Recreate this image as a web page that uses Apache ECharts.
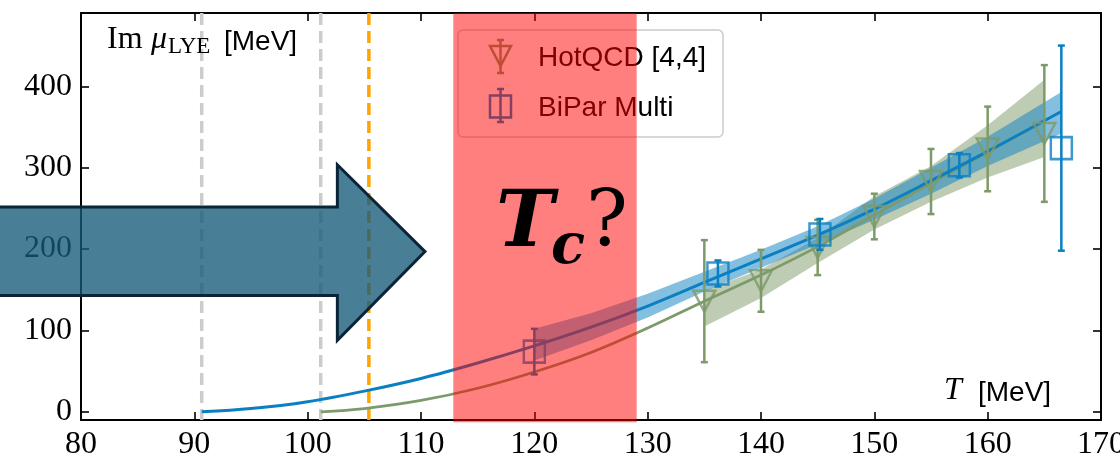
<!DOCTYPE html>
<html><head><meta charset="utf-8">
<script src="https://cdn.jsdelivr.net/npm/echarts@6/dist/echarts.min.js"></script>
<style>html,body{margin:0;padding:0;background:#fff}#c{width:1120px;height:460px}</style>
</head><body><div id="c"></div>
<script>
// ---------- data ----------
const xTickValues = [80, 90, 100, 110, 120, 130, 140, 150, 160, 170];
const yTickValues = [0, 100, 200, 300, 400];

// BiPar Multi fit curve (blue)
const blueCurveT = [90.65, 95, 100, 105, 110, 115, 120, 125, 130, 135, 140, 145, 150, 155, 160, 166.5];
const blueCurveV = [0, 4, 12.5, 25.5, 41, 60, 81, 104, 130, 159, 188, 217, 249, 284, 320, 369];
// BiPar Multi uncertainty band
const blueBandT  = [120, 125, 130, 135, 140, 145, 150, 155, 160, 166.5];
const blueBandLo = [63, 88, 116, 148, 177, 206, 236, 268, 302, 342];
const blueBandHi = [102, 121, 145, 172, 199, 228, 262, 300, 338, 393];

// HotQCD fit curve (green)
const greenCurveT = [101.15, 105, 110, 115, 120, 125, 130, 135, 140, 145, 150, 155, 160, 165];
const greenCurveV = [0, 4, 14, 29, 49, 73, 103, 136, 168, 203, 242, 281, 319, 358];
// HotQCD uncertainty band
const greenBandT  = [135, 140, 145, 150, 155, 160, 165];
const greenBandLo = [105, 140, 183, 224, 258, 288, 313];
const greenBandHi = [149, 175, 214, 265, 302, 352, 408];

// HotQCD [4,4] points
const hotT   = [135, 140, 145, 150, 155, 160, 165];
const hotV   = [136, 161, 202, 240, 283, 323, 342];
const hotErr = [75, 38, 34, 28, 40, 52, 84];

// BiPar Multi points
const biT   = [120, 136.2, 145.2, 157.5, 166.5];
const biV   = [74, 170, 218, 303, 324];
const biErr = [28, 16, 19, 15, 126];

// vertical markers
const grayLinesT = [90.65, 101.15];
const orangeLineT = [105.4];
// T_c window
const tcWindow = [112.85, 129.03];
// arrow outline (data coordinates)
const arrowX = [68, 102.62, 102.62, 110.35, 102.62, 102.62, 68];
const arrowY = [251.6, 251.6, 303.6, 196.9, 88, 142.8, 142.8];

// ---------- style ----------
const BLUE = '#0a7fc2';
const GREEN = '#7d9a6a';
const SERIF = '"Liberation Serif", "DejaVu Serif", serif';
const SANS = '"Liberation Sans", Arial, sans-serif';

const chart = echarts.init(document.getElementById('c'), null, {renderer: 'canvas'});

function bandRenderer(T, lo, hi, fill) {
  return function (params, api) {
    if (params.dataIndex !== 0) return null;
    const pts = [];
    for (let i = 0; i < T.length; i++) pts.push(api.coord([T[i], hi[i]]));
    for (let i = T.length - 1; i >= 0; i--) pts.push(api.coord([T[i], lo[i]]));
    return {type: 'polygon', shape: {points: pts}, style: {fill: fill}};
  };
}
function errRenderer(color) {
  return function (params, api) {
    const x = api.value(0), v = api.value(1), e = api.value(2);
    const a = api.coord([x, v - e]), b = api.coord([x, v + e]);
    const w = 3.5;
    const st = {stroke: color, lineWidth: 2.5};
    return {type: 'group', children: [
      {type: 'line', shape: {x1: a[0], y1: a[1], x2: b[0], y2: b[1]}, style: st},
      {type: 'line', shape: {x1: a[0] - w, y1: a[1], x2: a[0] + w, y2: a[1]}, style: st},
      {type: 'line', shape: {x1: b[0] - w, y1: b[1], x2: b[0] + w, y2: b[1]}, style: st}
    ]};
  };
}

const axisCommon = {
  type: 'value',
  axisLine: {show: true, onZero: false, lineStyle: {color: '#000', width: 2}},
  axisTick: {show: true, inside: true, length: 8, lineStyle: {color: '#000', width: 1.6}},
  splitLine: {show: false}
};

const option = {
  animation: false,
  backgroundColor: '#fff',
  grid: {left: 81, right: 19, top: 13, bottom: 40, containLabel: false, outerBoundsMode: 'none'},
  xAxis: [
    Object.assign({}, axisCommon, {position: 'bottom', min: 80, max: 170, interval: 10,
      axisLabel: {show: true, margin: 9, color: '#000', fontFamily: SERIF, fontSize: 32,
        formatter: v => xTickValues.includes(v) ? String(v) : ''}}),
    Object.assign({}, axisCommon, {position: 'top', min: 80, max: 170, interval: 10,
      axisLabel: {show: false}})
  ],
  yAxis: [
    Object.assign({}, axisCommon, {position: 'left', min: -10, max: 490, splitNumber: 5,
      axisLabel: {show: true, margin: 9, color: '#000', fontFamily: SERIF, fontSize: 32,
        formatter: v => yTickValues.includes(v) ? String(v) : ''}}),
    Object.assign({}, axisCommon, {position: 'right', min: -10, max: 490, splitNumber: 5,
      axisLabel: {show: false}})
  ],
  series: [
    {type: 'custom', name: 'greenBand', renderItem: bandRenderer(greenBandT, greenBandLo, greenBandHi, 'rgba(125,154,106,0.5)'),
      data: greenBandT.map((t, i) => [t, greenBandLo[i], greenBandHi[i]]), encode: {x: 0, y: [1, 2]}, z: 2, silent: true},
    {type: 'custom', name: 'blueBand', renderItem: bandRenderer(blueBandT, blueBandLo, blueBandHi, 'rgba(10,127,194,0.5)'),
      data: blueBandT.map((t, i) => [t, blueBandLo[i], blueBandHi[i]]), encode: {x: 0, y: [1, 2]}, z: 2, silent: true},
    {type: 'line', name: 'greenCurve', data: greenCurveT.map((t, i) => [t, greenCurveV[i]]),
      smooth: 0.35, showSymbol: false, symbol: 'none', lineStyle: {color: GREEN, width: 2.8}, z: 3},
    {type: 'line', name: 'blueCurve', data: blueCurveT.map((t, i) => [t, blueCurveV[i]]),
      smooth: 0.35, showSymbol: false, symbol: 'none', lineStyle: {color: BLUE, width: 3}, z: 3},
    {type: 'custom', name: 'hotErr', renderItem: errRenderer(GREEN),
      data: hotT.map((t, i) => [t, hotV[i], hotErr[i]]), encode: {x: 0, y: 1}, z: 4},
    {type: 'scatter', name: 'HotQCD [4,4]', data: hotT.map((t, i) => [t, hotV[i]]),
      symbol: 'path://M0,0L20,0L10,19Z', symbolSize: [22, 21],
      itemStyle: {color: 'rgba(0,0,0,0)', borderColor: GREEN, borderWidth: 2.5}, z: 4},
    {type: 'custom', name: 'biErr', renderItem: errRenderer(BLUE),
      data: biT.map((t, i) => [t, biV[i], biErr[i]]), encode: {x: 0, y: 1}, z: 5},
    {type: 'scatter', name: 'BiPar Multi', data: biT.map((t, i) => [t, biV[i]]),
      symbol: 'rect', symbolSize: [21, 22],
      itemStyle: {color: 'rgba(0,0,0,0)', borderColor: BLUE, borderWidth: 2.5}, z: 5}
  ]
};
chart.setOption(option);

function px(x, y) { return chart.convertToPixel({xAxisIndex: 0, yAxisIndex: 0}, [x, y]); }

const g = [];
const yTop = px(80, 490)[1], yBot = px(80, -10)[1];
grayLinesT.forEach(t => {
  const x = px(t, 0)[0];
  g.push({type: 'line', z: 1, shape: {x1: x, y1: yTop, x2: x, y2: yBot},
    style: {stroke: '#cccccc', lineWidth: 3.5, lineDash: [12, 6]}});
});
orangeLineT.forEach(t => {
  const x = px(t, 0)[0];
  g.push({type: 'line', z: 1, shape: {x1: x, y1: yTop, x2: x, y2: yBot},
    style: {stroke: '#ffa500', lineWidth: 3.5, lineDash: [12, 6]}});
});

// legend (drawn beneath the T_c window)
const L = {x: 458, y: 30, w: 265, h: 107};
g.push({type: 'rect', z: 8, shape: {x: L.x, y: L.y, width: L.w, height: L.h, r: 5},
  style: {fill: 'rgba(255,255,255,0.8)', stroke: '#cccccc', lineWidth: 1.5}});
const mx = 500.5;
const lst = (c) => ({stroke: c, lineWidth: 2.5, fill: null});
g.push({type: 'line', z: 9, shape: {x1: mx, y1: 40, x2: mx, y2: 73}, style: lst(GREEN)});
g.push({type: 'line', z: 9, shape: {x1: mx - 3.5, y1: 40, x2: mx + 3.5, y2: 40}, style: lst(GREEN)});
g.push({type: 'line', z: 9, shape: {x1: mx - 3.5, y1: 73, x2: mx + 3.5, y2: 73}, style: lst(GREEN)});
g.push({type: 'polygon', z: 9, shape: {points: [[mx - 10.5, 46], [mx + 10.5, 46], [mx, 66]]}, style: {stroke: GREEN, lineWidth: 2.5, fill: 'none'}});
g.push({type: 'line', z: 9, shape: {x1: mx, y1: 89, x2: mx, y2: 122}, style: lst(BLUE)});
g.push({type: 'line', z: 9, shape: {x1: mx - 3.5, y1: 89, x2: mx + 3.5, y2: 89}, style: lst(BLUE)});
g.push({type: 'line', z: 9, shape: {x1: mx - 3.5, y1: 122, x2: mx + 3.5, y2: 122}, style: lst(BLUE)});
g.push({type: 'rect', z: 9, shape: {x: mx - 10.5, y: 95.5, width: 21, height: 22}, style: {stroke: BLUE, lineWidth: 2.5, fill: 'none'}});
g.push({type: 'text', z: 9, style: {text: 'HotQCD [4,4]', x: 538, y: 58, font: '28px ' + SANS, fill: '#000', verticalAlign: 'middle'}});
g.push({type: 'text', z: 9, style: {text: 'BiPar Multi', x: 538, y: 108, font: '28px ' + SANS, fill: '#000', verticalAlign: 'middle'}});

// arrow
const arrowPts = arrowX.map((x, i) => px(x, arrowY[i]));
g.push({type: 'polygon', z: 7, shape: {points: arrowPts},
  style: {fill: 'rgba(20,90,120,0.78)', stroke: '#0b2536', lineWidth: 3, lineJoin: 'miter'}});

// T_c window
const r0 = px(tcWindow[0], 490), r1 = px(tcWindow[1], -12.7);
g.push({type: 'rect', z: 20, shape: {x: r0[0], y: r0[1], width: r1[0] - r0[0], height: r1[1] - r0[1]},
  style: {fill: 'rgba(255,0,0,0.5)'}});

// axis titles
g.push({type: 'text', z: 9, style: {text: 'Im', x: 107, y: 40, font: '32px ' + SERIF, fill: '#000', verticalAlign: 'middle'}});
g.push({type: 'text', z: 9, style: {text: 'μ', x: 151, y: 40, font: 'italic 32px ' + SERIF, fill: '#000', verticalAlign: 'middle'}});
g.push({type: 'text', z: 9, style: {text: 'LYE', x: 168, y: 47, font: '23px ' + SERIF, fill: '#000', verticalAlign: 'middle'}});
g.push({type: 'text', z: 9, style: {text: '[MeV]', x: 224, y: 42, font: '28px ' + SANS, fill: '#000', verticalAlign: 'middle'}});
g.push({type: 'text', z: 9, style: {text: 'T', x: 944, y: 391, font: 'italic 32px ' + SERIF, fill: '#000', verticalAlign: 'middle'}});
g.push({type: 'text', z: 9, style: {text: '[MeV]', x: 978, y: 393, font: '28px ' + SANS, fill: '#000', verticalAlign: 'middle'}});

// T_c ? label
g.push({type: 'text', z: 30, style: {text: 'T', x: 496, y: 226, font: 'italic bold 78px "DejaVu Serif", serif', fill: '#000', verticalAlign: 'middle'}});
g.push({type: 'text', z: 30, style: {text: 'c', x: 551, y: 248, font: 'italic bold 56px "DejaVu Serif", serif', fill: '#000', verticalAlign: 'middle'}});
g.push({type: 'text', z: 30, style: {text: '?', x: 586, y: 226, font: '78px "DejaVu Serif", serif', fill: '#000', verticalAlign: 'middle'}});

chart.setOption({graphic: {elements: g}});
</script>
</body></html>
